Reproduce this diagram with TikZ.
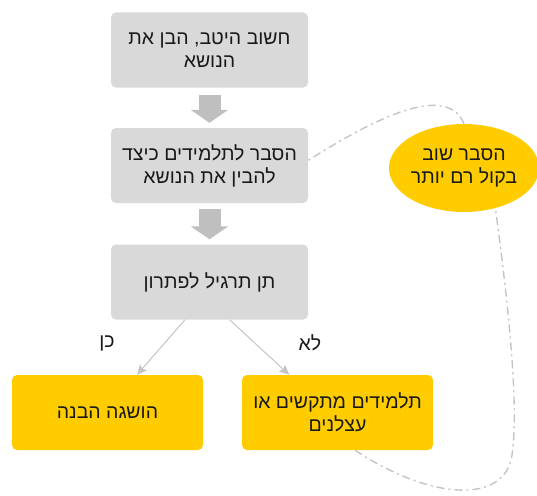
\documentclass[tikz,border=0pt]{standalone}
\usepackage{fontspec}
\setmainfont{Liberation Sans}
\newfontfamily\hebfont[Script=Hebrew]{Liberation Sans}
\TeXXeTstate=1
\usetikzlibrary{arrows.meta,shapes.geometric}
\definecolor{boxgray}{HTML}{D9D9D9}
\definecolor{arrowgray}{HTML}{BFBFBF}
\definecolor{linegray}{HTML}{C4C4C4}
\definecolor{gold}{HTML}{FFCC00}
\newcommand{\heb}[1]{\beginR #1\endR}
\begin{document}
\begin{tikzpicture}[x=1pt,y=-1pt,
  hebtext/.style={font=\hebfont\fontsize{19.5pt}{23pt}\selectfont, text=black!90, align=center},
  graybox/.style={hebtext, fill=boxgray, rounded corners=5pt, minimum width=197pt, minimum height=75pt},
  goldbox/.style={hebtext, fill=gold, rounded corners=5pt, minimum width=191pt, minimum height=75pt},
  blockarrow/.style={draw=arrowgray, line width=22pt, -{Triangle[length=13pt,width=37pt]}},
  thinarrow/.style={draw=linegray, line width=1pt, -{Stealth[length=10pt,width=9pt,inset=2pt]}},
  dashdot/.style={draw=linegray, line width=1.4pt, dash pattern=on 8pt off 4pt on 2pt off 4pt}]
\useasboundingbox (0,0) rectangle (537,495);
\node[graybox] (b1) at (209.5,50) {\heb{חשוב היטב, הבן את}\\\heb{הנושא}};
\node[graybox] (b2) at (209.5,165.5) {\heb{הסבר לתלמידים כיצד}\\\heb{להבין את הנושא}};
\node[graybox] (b3) at (209.5,282) {\heb{תן תרגיל לפתרון}};
\node[goldbox] (ok) at (107.5,412.5) {\heb{הושגה הבנה}};
\node[goldbox] (hard) at (337.5,412.5) {\heb{תלמידים מתקשים או}\\\heb{עצלנים}};
\node[hebtext, ellipse, fill=gold, minimum width=146pt, minimum height=88pt, inner sep=0pt] (ell) at (464,168) {\heb{הסבר שוב}\\\heb{בקול רם יותר}};
\node[hebtext] (yes) at (107,343) {\heb{כן}};
\node[hebtext] (no) at (310,343) {\heb{לא}};
\draw[blockarrow, shorten <=7pt, shorten >=5pt] (b1) -- (b2);
\draw[blockarrow, shorten <=6pt, shorten >=5pt] (b2) -- (b3);
\draw[thinarrow] (b3.237) -- (ok.52);
\draw[thinarrow] (b3.298) -- (hard.142);
\draw[dashdot] (hard.295) .. controls (430,500) and (505,505) .. (512,455) .. controls (520,400) and (505,280) .. (ell.308);
\draw[dashdot] (ell.north) .. controls (445,78) and (360,128) .. (b2.3);
\end{tikzpicture}
\end{document}
